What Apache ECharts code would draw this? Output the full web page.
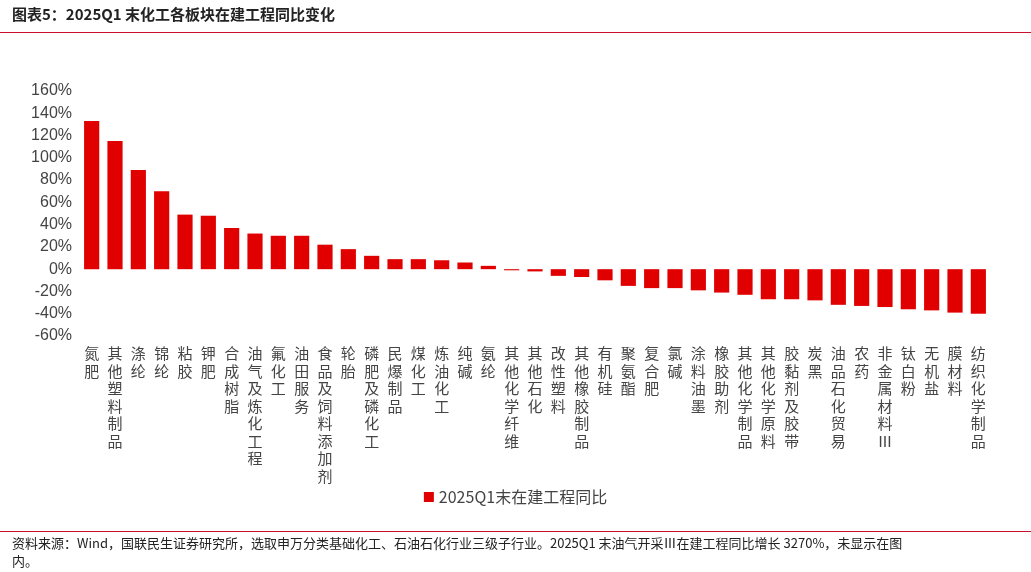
<!DOCTYPE html><html><head><meta charset="utf-8"><script src="https://cdn.jsdelivr.net/npm/echarts@6/dist/echarts.min.js"></script>
<style>body{margin:0;background:#fff}#c{width:1031px;height:572px}</style></head><body><div id="c"></div><script>
const categories=['氮肥','其他塑料制品','涤纶','锦纶','粘胶','钾肥','合成树脂','油气及炼化工程','氟化工','油田服务','食品及饲料添加剂','轮胎','磷肥及磷化工','民爆制品','煤化工','炼油化工','纯碱','氨纶','其他化学纤维','其他石化','改性塑料','其他橡胶制品','有机硅','聚氨酯','复合肥','氯碱','涂料油墨','橡胶助剂','其他化学制品','其他化学原料','胶黏剂及胶带','炭黑','油品石化贸易','农药','非金属材料Ⅲ','钛白粉','无机盐','膜材料','纺织化学制品'];
const values=[133,115,89,70,49,48,37,32,30,30,22,18,12,9,9,8,6,3,-1,-2,-6,-7,-10,-15,-17,-17,-19,-21,-23,-27,-27,-28,-32,-33,-34,-36,-37,-39,-40];
const seriesName='2025Q1末在建工程同比';
const c=echarts.init(document.getElementById('c'));
c.setOption({
 graphic:[
  {type:'text',left:12,top:7,style:{text:'图表5：2025Q1 末化工各板块在建工程同比变化',font:'bold 15px "Noto Sans CJK SC"',fill:'#222'}},
  {type:'rect',shape:{x:0,y:32,width:1031,height:1},style:{fill:'#c8102e'}},
  {type:'rect',shape:{x:0,y:531,width:1031,height:1},style:{fill:'#c8102e'}},
  {type:'text',left:12,top:534,style:{text:'资料来源：Wind，国联民生证券研究所，选取申万分类基础化工、石油石化行业三级子行业。2025Q1 末油气开采Ⅲ在建工程同比增长 3270%，未显示在图\n内。',font:'13px "Noto Sans CJK SC"',fill:'#222',lineHeight:18}}
 ],
 legend:{bottom:62,left:'center',itemWidth:10,itemHeight:10,icon:'rect',textStyle:{fontSize:16,color:'#444',fontFamily:'"Noto Sans CJK SC"'}},
 grid:{left:80,right:41,top:91,bottom:236},
 xAxis:{type:'category',data:categories,axisLine:{onZero:false,show:false},axisTick:{show:false},
  axisLabel:{interval:0,fontSize:15,color:'#444',lineHeight:17.5,margin:9,fontFamily:'"Noto Sans CJK SC"',formatter:v=>v.split('').join('\n')}},
 yAxis:{type:'value',min:-60,max:160,interval:20,splitLine:{show:false},axisLine:{show:false},
  axisLabel:{formatter:'{value}%',fontSize:16,color:'#444',fontFamily:'Liberation Sans'}},
 series:[{name:seriesName,type:'bar',data:values,barWidth:'65%',itemStyle:{color:'#e00000'}}]
});
</script></body></html>
